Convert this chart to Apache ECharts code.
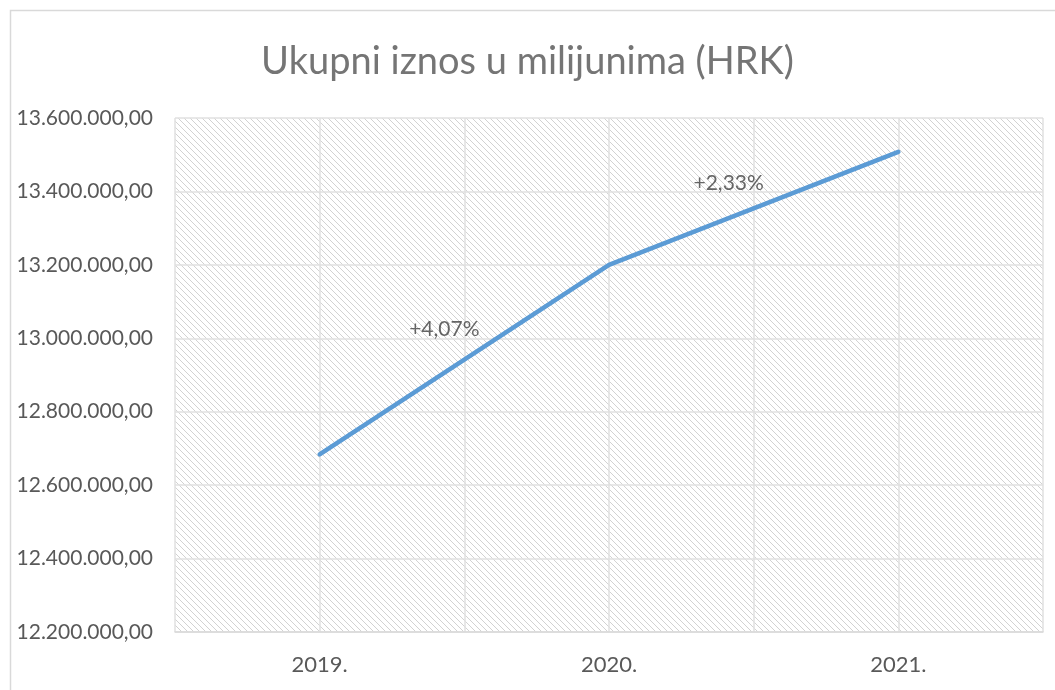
<!DOCTYPE html>
<html>
<head>
<meta charset="utf-8">
<script src="https://cdn.jsdelivr.net/npm/echarts@6/dist/echarts.min.js"></script>
<style>
  html, body { margin: 0; padding: 0; background: #fff; }
  #main { width: 1055px; height: 690px; }
</style>
</head>
<body>
<div id="main"></div>
<script>
var years = ["2019.", "2020.", "2021."];
var amounts = [12684000, 13200000, 13507600];
var growthLabels = ["+4,07%", "+2,33%"];
var yTicks = { min: 12200000, max: 13600000, step: 200000 };

// hatched background like the excel plot area
var hatch = document.createElement("canvas");
hatch.width = 6;
hatch.height = 6;
var hctx = hatch.getContext("2d");
hctx.fillStyle = "#fff";
hctx.fillRect(0, 0, 6, 6);
hctx.fillStyle = "#d2d2d2";
for (var i = 0; i < 6; i++) {
  hctx.fillRect(i, i, 1, 1);
}

function fmtNum(v) {
  var s = Math.round(v).toString().replace(/\B(?=(\d{3})+(?!\d))/g, ".");
  return s + ",00";
}

var lineData = amounts.map(function (v, i) {
  return [i, v];
});

// growth labels sit near the middle of each segment
var growthData = growthLabels.map(function (txt, i) {
  return {
    value: [i + 0.5, (amounts[i] + amounts[i + 1]) / 2],
    label: { formatter: txt, offset: i === 0 ? [-20, -30] : [-25, -25] },
  };
});

var chart = echarts.init(document.getElementById("main"));

var option = {
  backgroundColor: "#fff",
  animation: false,
  textStyle: { fontFamily: "Lato" },
  title: {
    text: "Ukupni iznos u milijunima (HRK)",
    left: "center",
    top: 38,
    textStyle: {
      fontFamily: "Lato",
      fontSize: 38,
      fontWeight: "normal",
      color: "#757575",
    },
  },
  graphic: [
    {
      type: "rect",
      shape: { x: 10.5, y: 10.5, width: 1100, height: 800 },
      style: { fill: "none", stroke: "#d9d9d9", lineWidth: 1.5 },
      silent: true,
    },
  ],
  grid: {
    left: 175,
    right: 12,
    top: 118,
    bottom: 58,
    show: true,
    borderWidth: 0,
    backgroundColor: { image: hatch, repeat: "repeat" },
  },
  xAxis: {
    type: "value",
    min: -0.5,
    max: 2.5,
    interval: 0.5,
    axisLine: { show: true, lineStyle: { color: "#d9d9d9", width: 1.5 } },
    axisTick: { show: false },
    splitLine: { show: true, lineStyle: { color: "#e0e0e0", width: 1.5 } },
    axisLabel: {
      margin: 22,
      fontSize: 22,
      color: "#595959",
      showMinLabel: true,
      showMaxLabel: true,
      formatter: function (v) {
        return Number.isInteger(v) && years[v] ? years[v] : "";
      },
    },
  },
  yAxis: {
    type: "value",
    min: yTicks.min,
    max: yTicks.max,
    interval: yTicks.step,
    axisLine: { show: false },
    axisTick: { show: false },
    splitLine: { show: true, lineStyle: { color: "#e0e0e0", width: 1.5 } },
    axisLabel: {
      margin: 22,
      fontSize: 21,
      color: "#595959",
      formatter: fmtNum,
    },
  },
  series: [
    {
      name: "Iznos",
      type: "line",
      data: lineData,
      symbol: "none",
      lineStyle: { color: "#5b9bd5", width: 4.5, cap: "round" },
      z: 3,
    },
    {
      name: "Rast",
      type: "scatter",
      data: growthData,
      symbolSize: 0,
      silent: true,
      label: {
        show: true,
        position: "inside",
        fontSize: 21,
        color: "#404040",
      },
      z: 4,
    },
  ],
};

chart.setOption(option);
</script>
</body>
</html>
